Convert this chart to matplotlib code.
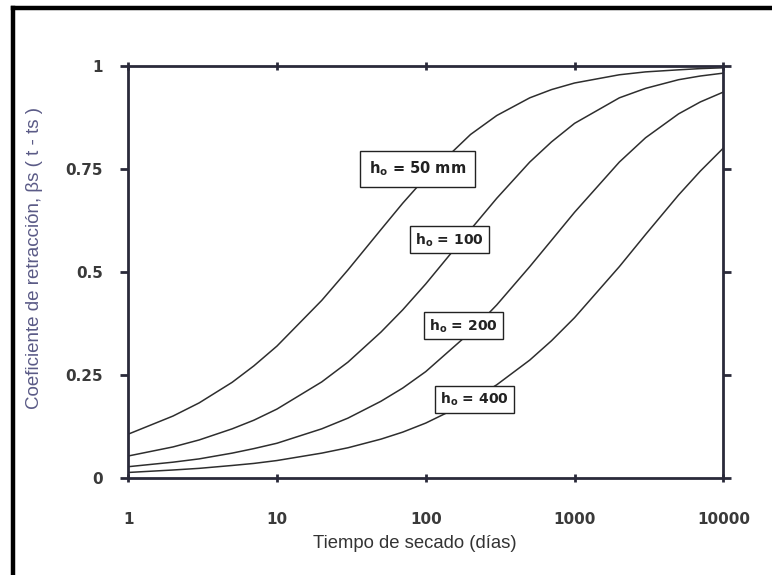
import matplotlib
matplotlib.use("Agg")
import matplotlib.pyplot as plt
from matplotlib.lines import Line2D

plt.rcParams['font.family'] = ['Liberation Sans', 'DejaVu Sans']

# Tiempo de secado (días) y coeficiente de retracción
t_dias = [1, 2, 3, 5, 7, 10, 20, 30, 50, 70, 100, 200, 300, 500, 700,
          1000, 2000, 3000, 5000, 7000, 10000]
beta_h50 = [0.106, 0.150, 0.182, 0.232, 0.272, 0.320, 0.431, 0.505, 0.603, 0.667,
            0.730, 0.834, 0.880, 0.923, 0.943, 0.959, 0.979, 0.986, 0.991, 0.994, 0.996]
beta_h100 = [0.053, 0.075, 0.092, 0.119, 0.140, 0.167, 0.233, 0.281, 0.354, 0.408,
             0.471, 0.603, 0.679, 0.767, 0.816, 0.861, 0.923, 0.946, 0.967, 0.976, 0.983]
beta_h200 = [0.027, 0.038, 0.046, 0.060, 0.071, 0.084, 0.119, 0.145, 0.186, 0.218,
             0.258, 0.354, 0.420, 0.513, 0.577, 0.645, 0.767, 0.826, 0.884, 0.913, 0.937]
beta_h400 = [0.013, 0.019, 0.023, 0.030, 0.035, 0.042, 0.060, 0.073, 0.094, 0.111,
             0.133, 0.186, 0.226, 0.286, 0.333, 0.389, 0.513, 0.591, 0.687, 0.745, 0.801]

curvas = [beta_h50, beta_h100, beta_h200, beta_h400]
etiquetas = [r'$\mathregular{h_o}$ = 50 mm', r'$\mathregular{h_o}$ = 100',
             r'$\mathregular{h_o}$ = 200', r'$\mathregular{h_o}$ = 400']
pos_etiquetas = [(88, 0.75), (144, 0.578), (179, 0.369), (212, 0.19)]

x_ticks = [1, 10, 100, 1000, 10000]
y_ticks = [0, 0.25, 0.5, 0.75, 1]
y_ticklabels = ['0', '0.25', '0.5', '0.75', '1']

fig = plt.figure(figsize=(7.72, 5.75), dpi=100)
ax = fig.add_axes([0.166, 0.169, 0.771, 0.716])

for y in curvas:
    ax.plot(t_dias, y, color='#2e2e2e', lw=1.1)

for i, (texto, (xp, yp)) in enumerate(zip(etiquetas, pos_etiquetas)):
    # la primera caja es más holgada que las demás
    pad = 0.6 if i == 0 else 0.35
    ax.text(xp, yp, texto, ha='center', va='center',
            fontsize=10.5 if i == 0 else 10,
            fontweight='bold', color='#222222', family='DejaVu Sans',
            bbox=dict(boxstyle=f'square,pad={pad}', fc='white', ec='#222222', lw=1.0))

ax.set_xscale('log')
ax.set_xlim(1, 10000)
ax.set_ylim(0, 1)
ax.set_xticks(x_ticks)
ax.set_xticklabels([str(v) for v in x_ticks])
ax.set_yticks(y_ticks)
ax.set_yticklabels(y_ticklabels)
ax.minorticks_off()

ax.tick_params(axis='x', which='both', direction='inout', length=6, width=2,
               top=True, pad=21.5, colors='#2a2a3a')
ax.tick_params(axis='y', direction='out', length=6, width=2, right=True,
               pad=12, colors='#2a2a3a')
for lab in ax.get_xticklabels() + ax.get_yticklabels():
    lab.set_family('DejaVu Sans')
    lab.set_fontsize(11)
    lab.set_fontweight('bold')
    lab.set_color('#3a3a3a')

for s in ax.spines.values():
    s.set_linewidth(2.0)
    s.set_color('#2a2a3a')

ax.set_xlabel('Tiempo de secado (días)', fontsize=13.3, color='#333333')
ax.xaxis.set_label_coords(0.481, -0.138)
ax.set_ylabel('Coeficiente de retracción, βs ( t - ts )', fontsize=13.5,
              color='#5a5a86')
ax.yaxis.set_label_coords(-0.143, 0.534)

# marco exterior recortado (solo izquierda y arriba)
fig.add_artist(Line2D([13 / 772, 13 / 772], [0, 1 - 8 / 575], color='black', lw=3.2,
                      transform=fig.transFigure))
fig.add_artist(Line2D([13 / 772, 1], [1 - 8 / 575, 1 - 8 / 575], color='black', lw=3.2,
                      transform=fig.transFigure))

fig.savefig('out.png', dpi=100)
